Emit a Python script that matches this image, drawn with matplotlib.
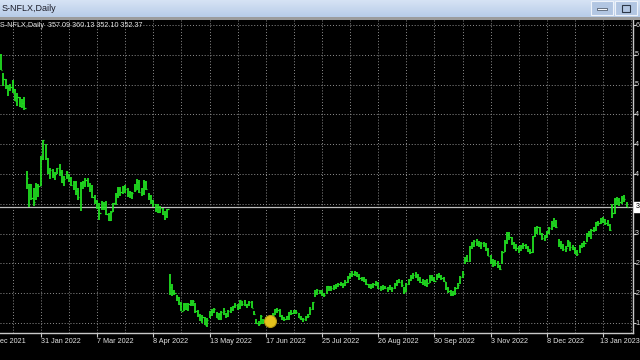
import numpy as np
import pandas as pd
import matplotlib
matplotlib.use('Agg')
import matplotlib.pyplot as plt
import matplotlib.transforms as mtransforms
from matplotlib.patches import Rectangle

plt.rcParams['font.family'] = ['Liberation Sans', 'DejaVu Sans']

# the window is cropped: only the visible part of the symbol name shows
symbol = 'S-NFLX'
period = 'Daily'
last_ohlc = [357.09, 360.13, 352.10, 352.37]

# trading calendar
first_day = '2021-12-27'
last_day = '2023-01-30'
data_start = '2022-01-04'
holidays = ['2022-01-17', '2022-02-21', '2022-04-15', '2022-05-30', '2022-06-20',
            '2022-07-04', '2022-09-05', '2022-11-24', '2022-12-26', '2023-01-02', '2023-01-16']

highs = [
    # Jan 2022
    600.4, 592.8, 563.4, 553.4, 543.7, 546.0, 552.0, 538.4, 531.0, 525.5, 521.7, 525.0, 409.2, 387.3, 388.6, 381.3, 390.2, 387.9, 431.6,
    # Feb
    458.0, 451.0, 429.0, 412.8, 412.0, 406.3, 413.5, 419.4, 409.4, 401.0, 408.0, 403.5, 398.9, 393.0, 392.9, 382.0, 390.9, 393.0, 396.8,
    # Mar
    397.4, 390.0, 386.3, 370.5, 363.0, 357.5, 361.0, 359.2, 361.0, 343.0, 346.0, 358.6, 373.9, 383.0, 382.5, 385.6, 386.0, 381.4, 377.5, 376.0, 387.9, 395.5, 394.6,
    # Apr
    380.9, 393.7, 392.6, 374.2, 371.0, 362.5, 356.0, 356.3, 353.5, 350.9, 345.8, 349.0, 245.9, 230.5, 221.0, 213.0, 210.7, 201.8, 200.0, 200.2,
    # May
    200.6, 205.0, 205.5, 199.8, 189.3, 183.2, 181.8, 178.9, 176.5, 188.5, 190.7, 193.0, 186.2, 185.0, 188.2, 192.0, 185.0, 189.7, 193.9, 196.0, 200.4,
    # Jun
    199.5, 205.3, 203.8, 205.0, 199.6, 203.9, 203.8, 188.7, 176.0, 172.5, 182.0, 175.3, 179.0, 180.0, 182.0, 184.5, 191.2, 193.0, 190.3, 181.5, 179.0,
    # Jul
    180.5, 186.2, 188.8, 190.2, 190.1, 184.0, 180.0, 177.5, 180.2, 182.5, 195.0, 202.0, 220.5, 223.0, 221.5, 220.6, 217.0, 227.9, 227.8, 227.5,
    # Aug
    229.0, 230.5, 232.6, 234.0, 232.0, 236.5, 243.2, 248.0, 250.5, 251.0, 249.5, 245.5, 242.0, 240.8, 238.0, 231.0, 230.0, 231.8, 234.5, 233.0, 228.0, 229.5, 228.0,
    # Sep
    226.0, 229.0, 226.5, 231.5, 236.5, 238.0, 236.0, 226.0, 232.0, 238.8, 244.5, 247.0, 249.0, 246.0, 241.0, 238.0, 236.5, 238.0, 244.0, 244.5, 242.0,
    # Oct
    246.5, 247.0, 245.0, 241.5, 234.0, 226.0, 221.0, 219.0, 225.0, 232.5, 243.0, 250.2, 272.5, 276.0, 290.0, 297.0, 299.8, 301.0, 298.0, 296.5, 296.0,
    # Nov
    295.5, 287.0, 276.0, 270.0, 268.0, 266.0, 260.5, 283.0, 299.0, 312.0, 313.0, 305.0, 296.5, 294.0, 290.0, 292.0, 294.5, 293.0, 290.0, 286.0, 306.0,
    # Dec
    320.0, 322.5, 321.0, 311.0, 308.0, 314.0, 321.0, 330.0, 335.0, 332.0, 302.0, 298.0, 294.0, 290.0, 299.5, 297.0, 292.0, 288.5, 284.0, 292.0, 295.5,
    # Jan 2023
    298.0, 311.0, 314.0, 316.5, 320.0, 328.5, 330.0, 334.0, 336.5, 333.0, 331.0, 325.0, 357.0, 365.5, 368.0, 366.0, 369.0, 370.0, 360.13,
]
lows = [
    581.6, 566.9, 542.0, 538.0, 526.3, 535.1, 532.0, 518.0, 511.5, 508.8, 507.4, 504.0, 379.9, 351.5, 362.1, 354.0, 362.0, 367.7, 385.0,
    425.2, 426.5, 404.3, 396.6, 398.0, 394.1, 403.0, 400.0, 389.6, 385.0, 396.5, 391.0, 384.5, 378.0, 370.0, 362.5, 345.4, 380.6, 382.5,
    384.0, 375.5, 366.0, 357.2, 349.1, 331.4, 347.2, 346.5, 339.6, 329.8, 330.0, 343.2, 354.3, 366.1, 369.8, 372.6, 373.2, 368.2, 365.3, 364.6, 375.0, 378.4, 374.2,
    368.7, 370.4, 378.0, 363.0, 356.7, 352.3, 343.8, 342.0, 342.5, 339.0, 331.3, 334.0, 212.5, 212.0, 212.7, 203.2, 197.7, 187.3, 188.0, 190.0,
    188.6, 196.2, 195.3, 184.4, 178.3, 172.0, 169.5, 165.3, 162.7, 177.1, 180.1, 184.8, 176.2, 174.5, 174.5, 182.3, 176.6, 178.2, 185.5, 188.5, 192.0,
    189.8, 190.3, 196.5, 196.2, 192.8, 195.5, 192.6, 181.3, 167.5, 164.3, 167.6, 167.3, 171.0, 173.9, 174.8, 176.4, 182.3, 184.9, 178.8, 173.7, 172.2,
    174.0, 173.2, 181.3, 183.3, 183.5, 176.6, 174.0, 170.7, 171.5, 177.3, 182.0, 189.5, 210.4, 213.6, 214.0, 212.3, 209.2, 214.6, 219.0, 219.9,
    221.7, 222.7, 225.5, 226.8, 224.0, 227.0, 232.0, 239.0, 242.0, 243.0, 241.0, 237.5, 235.0, 233.0, 229.0, 224.5, 222.0, 224.0, 227.0, 222.5, 220.0, 221.5, 222.0,
    218.5, 221.0, 218.0, 222.5, 228.0, 232.0, 226.5, 214.5, 218.0, 229.0, 235.0, 238.5, 240.0, 235.5, 231.5, 228.5, 227.0, 226.5, 232.0, 234.5, 233.5,
    236.0, 239.5, 236.5, 233.0, 221.5, 216.0, 211.7, 211.5, 212.5, 222.0, 231.0, 240.0, 262.0, 264.5, 265.0, 285.0, 288.5, 290.5, 288.0, 285.0, 288.0,
    283.0, 274.0, 262.5, 258.0, 259.0, 255.5, 252.0, 262.0, 281.0, 294.0, 300.0, 292.0, 286.0, 283.0, 280.0, 282.0, 286.0, 286.0, 280.5, 277.5, 280.0,
    304.0, 310.0, 308.0, 299.0, 298.0, 303.0, 310.0, 316.0, 320.0, 318.0, 289.0, 286.0, 283.0, 281.0, 288.0, 283.0, 283.5, 278.0, 275.0, 279.0, 287.0,
    288.0, 296.0, 304.0, 302.0, 312.0, 314.0, 321.5, 325.0, 326.5, 323.0, 322.0, 314.0, 335.0, 340.0, 355.0, 354.0, 357.0, 359.0, 352.10,
]
closes = [
    591.2, 567.5, 553.3, 541.1, 539.9, 540.8, 537.2, 519.2, 525.7, 510.8, 515.9, 508.3, 397.5, 387.2, 366.4, 359.7, 386.7, 384.4, 427.1,
    457.1, 429.5, 405.6, 410.2, 402.1, 403.5, 412.9, 406.3, 391.3, 396.6, 407.5, 398.1, 386.7, 391.3, 377.4, 367.5, 390.0, 390.8, 394.5,
    386.2, 380.0, 368.1, 361.7, 350.3, 341.8, 358.8, 356.8, 340.3, 331.0, 343.8, 357.5, 371.4, 380.6, 374.6, 382.9, 379.5, 370.6, 375.7, 373.9, 378.5, 391.8, 374.6,
    373.5, 391.5, 380.2, 368.4, 362.2, 355.9, 348.0, 344.1, 350.4, 341.1, 337.9, 348.6, 226.2, 218.2, 215.5, 209.9, 198.4, 188.5, 199.5, 190.4,
    199.5, 199.9, 204.0, 188.3, 181.0, 173.1, 177.7, 166.4, 174.3, 187.6, 186.5, 190.6, 177.2, 183.5, 186.4, 187.4, 180.3, 187.8, 191.4, 195.2, 197.4,
    192.9, 205.1, 199.0, 197.1, 198.6, 202.8, 192.8, 182.9, 169.7, 167.5, 180.1, 173.4, 175.5, 178.4, 179.9, 181.7, 190.9, 189.1, 179.6, 178.4, 174.9,
    180.0, 185.9, 184.1, 189.3, 187.0, 177.2, 175.0, 175.7, 178.9, 180.2, 190.9, 201.6, 218.3, 220.4, 218.5, 215.4, 213.9, 226.8, 226.0, 224.9,
    226.2, 227.0, 230.1, 231.2, 228.4, 233.3, 241.6, 245.0, 246.3, 249.3, 243.4, 240.6, 238.3, 235.6, 230.4, 226.0, 228.0, 230.4, 231.9, 224.0, 226.5, 223.6, 223.6,
    225.1, 222.6, 224.0, 231.0, 234.3, 233.6, 228.3, 217.5, 229.9, 236.5, 241.2, 244.3, 242.6, 237.6, 234.0, 231.9, 228.6, 232.5, 241.2, 238.0, 235.4,
    243.6, 242.7, 239.5, 234.8, 224.5, 219.0, 214.3, 215.8, 223.6, 229.2, 241.5, 246.2, 268.2, 266.8, 289.6, 293.2, 298.2, 294.6, 292.5, 295.7, 291.9,
    285.0, 274.5, 263.5, 265.0, 263.0, 258.3, 253.5, 281.5, 296.0, 307.0, 304.0, 295.0, 289.0, 286.5, 284.5, 290.5, 291.5, 288.0, 282.0, 280.5, 305.5,
    316.0, 320.4, 310.0, 303.0, 305.0, 312.0, 318.0, 326.0, 324.0, 321.0, 294.0, 290.5, 285.5, 287.0, 297.5, 288.0, 286.0, 281.0, 277.0, 290.5, 294.9,
    295.0, 309.4, 309.7, 315.6, 315.2, 327.5, 327.3, 330.1, 332.8, 326.0, 324.0, 315.8, 342.5, 364.0, 362.0, 359.5, 366.0, 364.9, 352.37,
]

tick_dates = ['2021-12-27', '2022-01-31', '2022-03-07', '2022-04-08', '2022-05-13', '2022-06-17',
              '2022-07-25', '2022-08-26', '2022-09-30', '2022-11-03', '2022-12-08', '2023-01-13']
# visible part of each date label (the window edge cuts the first one)
tick_labels = ['ec 2021', '31 Jan 2022', '7 Mar 2022', '8 Apr 2022', '13 May 2022', '17 Jun 2022',
               '25 Jul 2022', '26 Aug 2022', '30 Sep 2022', '3 Nov 2022', '8 Dec 2022', '13 Jan 2023']
price_ticks = [638.40, 591.46, 544.52, 497.58, 450.64, 403.70, 356.76, 309.82, 262.88, 215.94, 169.00]
event_date = '2022-06-22'
event_price = 172.0

# ---- layout (pixels of a 640x360 window) ----
W, H = 640, 360
bar_px = 2.3427
chart_top, chart_bottom, chart_right = 20, 333.3, 633
bar_color = '#22e822'
grid_color = '#8f8f8f'
axis_color = '#c8c8c8'
text_color = '#e2e2e2'
fs = 5.2


def fx(x):
    return x / W


def fy(y):
    return 1 - y / H


days = pd.bdate_range(first_day, last_day)
days = days[~days.isin(pd.to_datetime(holidays))]
start = days.get_loc(pd.Timestamp(data_start))
x = np.arange(start, start + len(highs))

fig = plt.figure(figsize=(6.4, 3.6), dpi=100, facecolor='black')
ax = fig.add_axes([0, fy(chart_bottom), fx(chart_right), (chart_bottom - chart_top) / H])
ax.set_facecolor('black')

# first fully visible bar (5 Jan) sits at pixel 1
x0 = start + 1 - 1 / bar_px
ax.set_xlim(x0, x0 + chart_right / bar_px)
ax.set_ylim(152.8, 646.3)

for i in range(0, len(days) + 12, 12):
    ax.axvline(i, color=grid_color, lw=0.7, ls=(0, (1, 2)), zorder=1)
for p in price_ticks:
    ax.axhline(p, color=grid_color, lw=0.7, ls=(0, (1, 2)), zorder=1)

ax.axhline(last_ohlc[3], color='#bdbdbd', lw=0.9, zorder=2)

ax.vlines(x, lows, highs, color=bar_color, lw=1.25, zorder=3)
ax.hlines(closes, x, x + 0.5, color=bar_color, lw=0.9, zorder=3)

ax.plot(days.get_loc(pd.Timestamp(event_date)), event_price, 'o', ms=8.6,
        mfc='#e4c21c', mec='#b99b12', mew=0.8, zorder=5)

for side in ['left', 'top']:
    ax.spines[side].set_visible(False)
for side in ['right', 'bottom']:
    ax.spines[side].set_color(axis_color)
    ax.spines[side].set_linewidth(1.0)

ax.yaxis.tick_right()
ax.set_yticks(price_ticks)
ax.tick_params(axis='y', colors=axis_color, labelright=False, length=2)

tick_pos = [days.get_loc(pd.Timestamp(d)) for d in tick_dates]
ax.set_xticks([t for t in tick_pos if t > x0])
ax.tick_params(axis='x', colors=axis_color, labelbottom=False, length=3)

lbl_tr = mtransforms.blended_transform_factory(ax.transData, fig.transFigure)
for k, (t, lab) in enumerate(zip(tick_pos, tick_labels)):
    if k == len(tick_labels) - 1:
        # last label pushed against the right window edge
        fig.text(fx(639.5), fy(341.7), lab, ha='right', va='center',
                 fontsize=fs, color=text_color)
    else:
        ax.text(max(t, x0), fy(341.7), lab, transform=lbl_tr,
                ha='left', va='center', fontsize=fs, color=text_color, clip_on=False)

# right price scale: only the first digit fits inside the cropped window
pr_tr = mtransforms.blended_transform_factory(fig.transFigure, ax.transData)
for p in price_ticks:
    if abs(p - last_ohlc[3]) < 10:
        continue
    ax.text(fx(635.2), p, f'{p:.2f}'[0], transform=pr_tr, ha='left', va='center',
            fontsize=fs, color=text_color, clip_on=False)

# current price label
ax.text(fx(635.8), last_ohlc[3], f'{last_ohlc[3]:.2f}'[0], transform=pr_tr,
        ha='left', va='center', fontsize=fs, color='black', clip_on=False,
        bbox=dict(boxstyle='square,pad=0.2', fc='white', ec='white'))

# chart header
fig.text(fx(0.5), fy(25.5), f'{symbol},{period}  ' + ' '.join(f'{v:.2f}' for v in last_ohlc),
         ha='left', va='center', fontsize=fs, color=text_color)

# window title bar
tb = fig.add_axes([0, fy(17), 1, 17 / H])
grad = np.linspace(0, 1, 32)[:, None, None]
top_c = np.array([0.84, 0.89, 0.96])
bot_c = np.array([0.72, 0.80, 0.91])
tb.imshow(top_c * (1 - grad) + bot_c * grad, aspect='auto', extent=[0, 1, 0, 1])
tb.set_axis_off()
fig.patches.append(Rectangle((0, fy(19.5)), 1, 2.5 / H, transform=fig.transFigure,
                             fc='#9c9c9c', ec='none', zorder=3))
fig.text(fx(1.5), fy(8.5), f'{symbol},{period}', ha='left', va='center',
         fontsize=6.5, color='#1c1c28', zorder=4)

for bx in [591, 615]:
    fig.patches.append(Rectangle((fx(bx), fy(15)), 22 / W, 14 / H, transform=fig.transFigure,
                                 fc='#b2c6e2', ec='#eef3fa', lw=0.8, zorder=4))
fig.patches.append(Rectangle((fx(597), fy(10)), 10 / W, 2 / H, transform=fig.transFigure,
                             fc='#f4f6fa', ec='#3a4658', lw=0.5, zorder=5))
fig.patches.append(Rectangle((fx(621.5), fy(12)), 8 / W, 7 / H, transform=fig.transFigure,
                             fc='none', ec='#2c3646', lw=0.8, zorder=5))

fig.savefig('out.png', dpi=100, facecolor='black')
